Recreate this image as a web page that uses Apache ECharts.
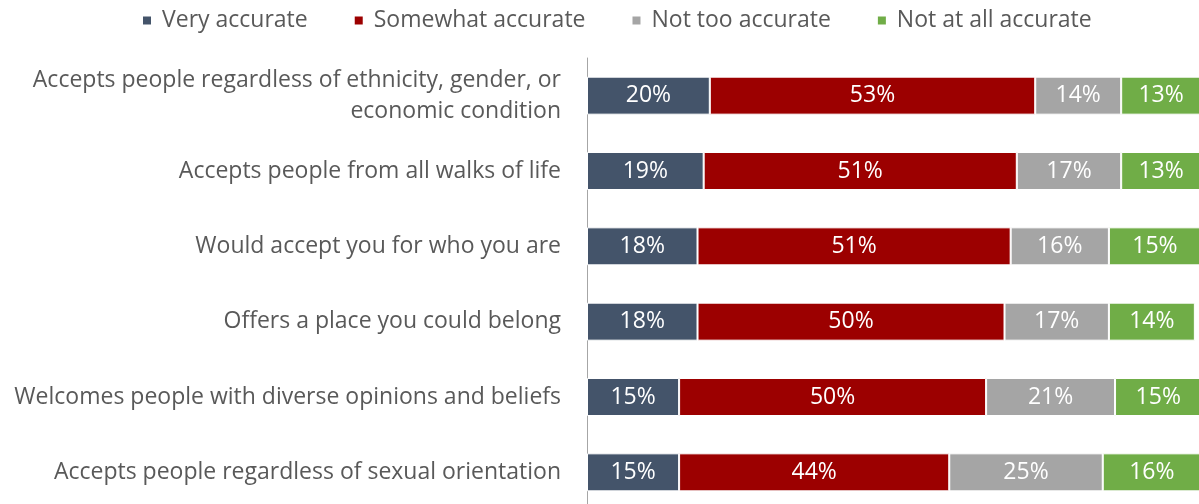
<!DOCTYPE html>
<html>
<head>
<meta charset="utf-8">
<script src="https://cdn.jsdelivr.net/npm/echarts@6/dist/echarts.min.js"></script>
<style>
html,body{margin:0;padding:0;background:#fff;}
#c{width:1199px;height:504px;}
</style>
</head>
<body>
<div id="c"></div>
<script>
const categories = [
  "Accepts people regardless of ethnicity, gender, or\neconomic condition",
  "Accepts people from all walks of life",
  "Would accept you for who you are",
  "Offers a place you could belong",
  "Welcomes people with diverse opinions and beliefs",
  "Accepts people regardless of sexual orientation"
];
const seriesNames = ["Very accurate", "Somewhat accurate", "Not too accurate", "Not at all accurate"];
const veryAccurate = [20, 19, 18, 18, 15, 15];
const somewhatAccurate = [53, 51, 51, 50, 50, 44];
const notTooAccurate = [14, 17, 16, 17, 21, 25];
const notAtAllAccurate = [13, 13, 15, 14, 15, 16];
const colors = ["#44546A", "#9C0000", "#A5A5A5", "#70AD47"];

const FONT = "'Open Sans', 'Noto Sans', sans-serif";
const values = [veryAccurate, somewhatAccurate, notTooAccurate, notAtAllAccurate];

const chart = echarts.init(document.getElementById('c'), null, {renderer: 'canvas'});
chart.setOption({
  animation: false,
  legend: {
    top: 4,
    left: 136,
    itemWidth: 10,
    itemHeight: 10,
    itemGap: 45,
    icon: 'rect',
    textStyle: {fontFamily: FONT, fontSize: 23, color: '#595959', padding: [0, 0, 0, 5]},
    data: seriesNames
  },
  grid: {left: 587, width: 614, top: 58, height: 452, containLabel: false, outerBoundsMode: 'none'},
  xAxis: {
    type: 'value', min: 0, max: 100, show: false
  },
  yAxis: {
    type: 'category',
    data: categories,
    inverse: true,
    axisLine: {show: true, lineStyle: {color: '#A6A6A6', width: 1}},
    axisTick: {show: false},
    axisLabel: {fontFamily: FONT, fontSize: 23, color: '#595959', margin: 26, lineHeight: 31, align: 'right'}
  },
  series: seriesNames.map((n, i) => ({
    name: n,
    type: 'bar',
    stack: 'total',
    barWidth: 38,
    data: values[i],
    itemStyle: {color: colors[i], borderColor: '#fff', borderWidth: 1},
    label: {show: true, position: 'inside', formatter: '{c}%', color: '#fff', fontFamily: FONT, fontSize: 23}
  }))
});
</script>
</body>
</html>
